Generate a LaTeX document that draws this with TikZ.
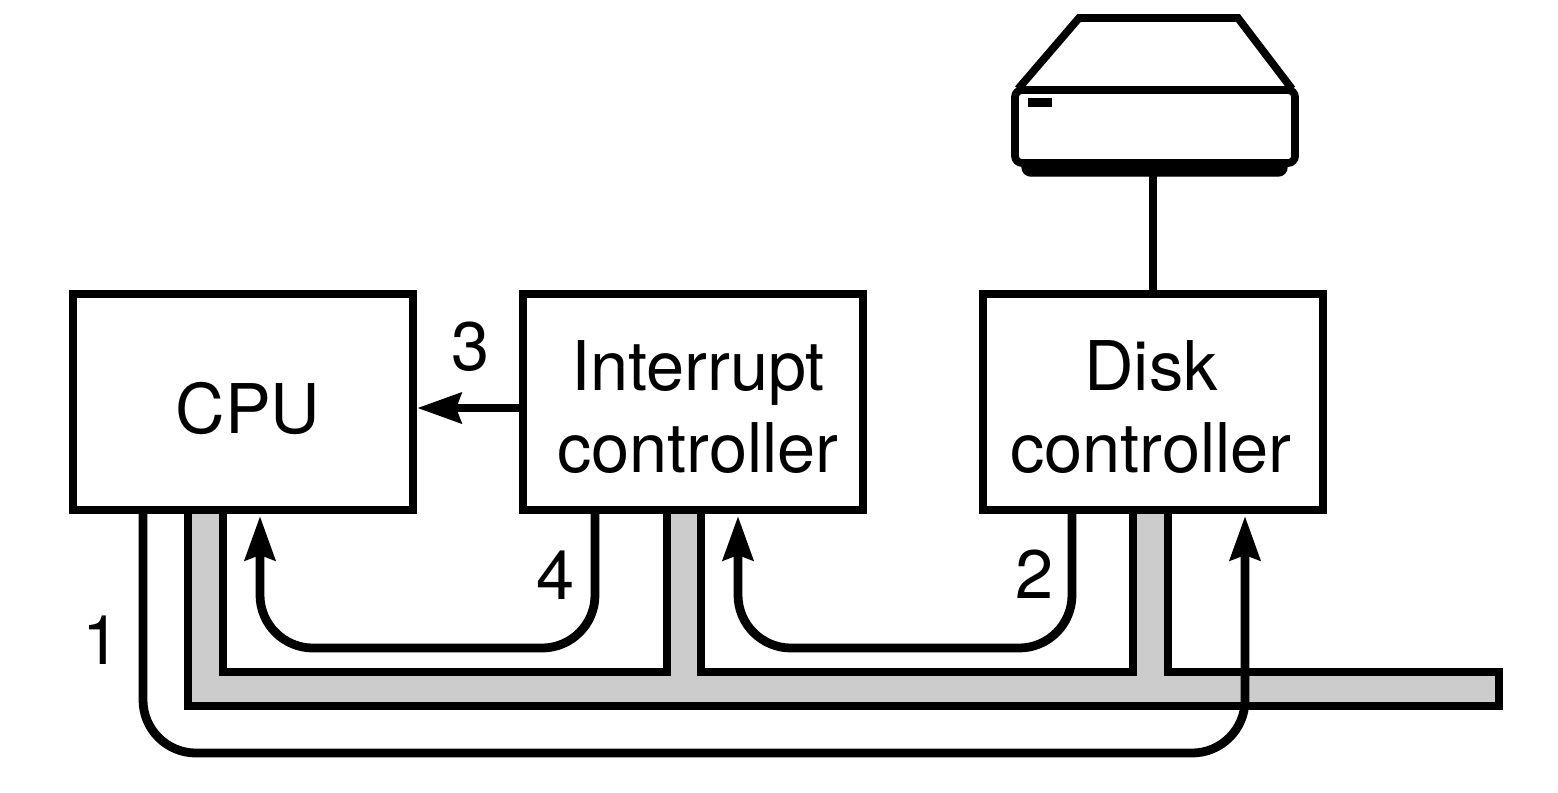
\documentclass[tikz,border=0pt]{standalone}
\usepackage{fontspec}
\setmainfont{TeX Gyre Heros}
\usetikzlibrary{arrows.meta}
\definecolor{busgray}{gray}{0.8}
\tikzset{
	unit/.style={draw, line width=2.2pt, minimum width=9.6cm/2.82, minimum height=2.16cm, inner sep=0pt},
	wire/.style={line width=2.2pt},
	signal/.style={line width=2.5pt, rounded corners=0.53cm, -{Stealth[length=12.5pt, width=8.5pt, inset=1.4pt]}},
	tag/.style={inner sep=0pt, align=center, font=\fontsize{19.5pt}{23.5pt}\selectfont}
}

\begin{document}
\begin{tikzpicture}[x=0.1mm, y=-0.1mm]

	\useasboundingbox (0, 0) rectangle (1558, 792);

	% bus
	\filldraw[fill=busgray, wire, line join=miter]
		(188, 510) -- (188, 706) -- (1499, 706) -- (1499, 672) -- (1168, 672) -- (1168, 510)
		-- (1133, 510) -- (1133, 672) -- (701, 672) -- (701, 510) -- (667, 510) -- (667, 672)
		-- (223, 672) -- (223, 510);

	% boxes
	\node[unit] (cpu) at (243, 402) {};
	\node[unit] (intctrl) at (693, 402) {};
	\node[unit] (diskctrl) at (1153, 402) {};

	\node[tag] (cputext) at (248, 408) {CPU};
	\node[tag] (inttext) at (698, 407) {Interrupt\\controller};
	\node[tag] (disktext) at (1151, 407) {Disk\\controller};

	% drive
	\coordinate (drvbase) at (1153, 174);
	\filldraw[fill=black, draw=black, rounded corners=2.5pt] (1022, 150) rectangle (1287, 176);
	\draw[wire, line join=miter] (1018, 89) -- (1079, 18) -- (1238, 18) -- (1292, 89);
	\filldraw[fill=white, wire, rounded corners=2pt] (1015, 90) rectangle (1295, 163);
	\fill (1028, 98) rectangle (1052, 107);
	\draw[wire] (drvbase) -- (diskctrl.north);

	% arrows
	\coordinate (S1) at (143, 513);
	\coordinate (T1) at (1245, 516);
	\coordinate (S2) at (1072, 513);
	\coordinate (T2) at (738, 516);
	\coordinate (S4) at (595, 513);
	\coordinate (T4) at (260, 516);

	\draw[signal] (S1) -- (143, 753) -- (1245, 753) -- (T1);
	\draw[signal] (S2) -- (1072, 648) -- (738, 648) -- (T2);
	\draw[signal] (S4) -- (595, 648) -- (260, 648) -- (T4);
	\draw[signal] (intctrl.west |- 0, 408) -- (cpu.east |- 0, 408);

	\node[tag] (one) at (102, 640) {1};
	\node[tag] (two) at (1035, 574) {2};
	\node[tag] (three) at (471, 347) {3};
	\node[tag] (four) at (556, 575) {4};

\end{tikzpicture}
\end{document}
